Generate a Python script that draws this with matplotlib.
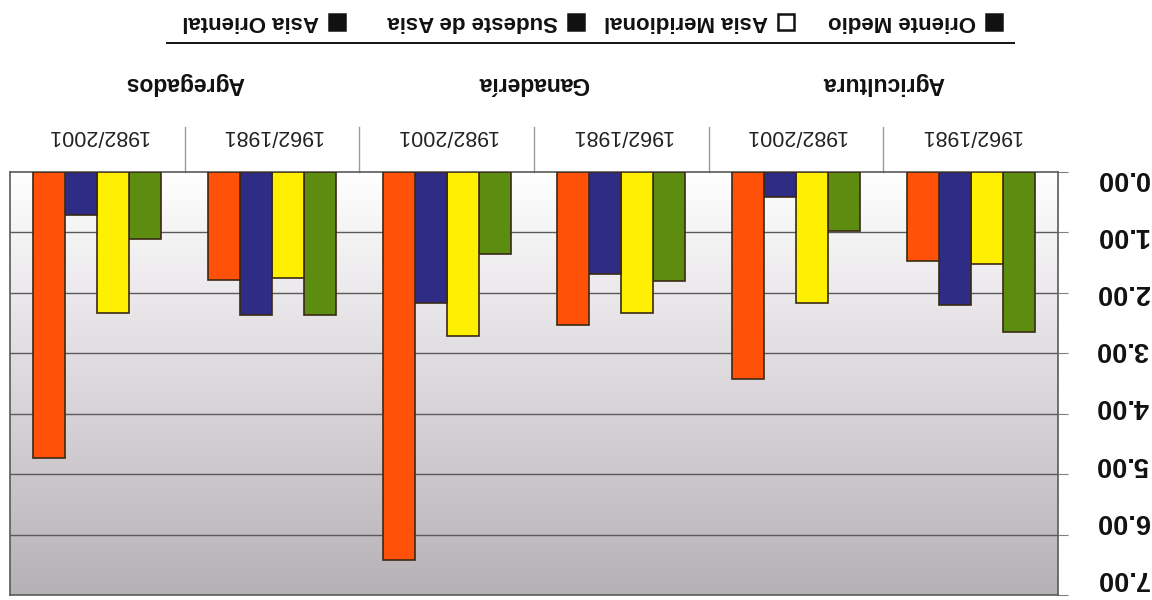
import numpy as np
import matplotlib
matplotlib.use("Agg")
import matplotlib.pyplot as plt
from matplotlib.colors import LinearSegmentedColormap
from matplotlib.transforms import blended_transform_factory
from matplotlib.patches import Rectangle

# ---- data (original chart order; the reference image is rotated 180 degrees) ----
groups = ["Agricultura", "Ganadería", "Agregados"]
periods = ["1962/1981", "1982/2001"]
series = ["Oriente Medio", "Asia Meridional", "Sudeste de Asia", "Asia Oriental"]
colors = ["#5c8c10", "#ffef00", "#2e2c85", "#ff5208"]

oriente_medio   = [2.64, 0.98, 1.81, 1.36, 2.36, 1.11]
asia_meridional = [1.53, 2.17, 2.34, 2.72, 1.76, 2.33]
sudeste_asia    = [2.20, 0.41, 1.69, 2.17, 2.36, 0.71]
asia_oriental   = [1.47, 3.42, 2.54, 6.42, 1.79, 4.73]
values = [oriente_medio, asia_meridional, sudeste_asia, asia_oriental]

yticks = [0, 1, 2, 3, 4, 5, 6, 7]
ytick_labels = ["0.00", "1.00", "2.00", "3.00", "4.00", "5.00", "6.00", "7.00"]

W, H = 1152, 600
fig = plt.figure(figsize=(W / 100, H / 100), dpi=100)
fig.patch.set_facecolor("white")

left_px, right_px, top_px, bot_px = 10, 1058, 172, 595
ax_w = right_px - left_px
ax_h = bot_px - top_px
ax = fig.add_axes([left_px / W, 1 - bot_px / H, ax_w / W, ax_h / H])

n_slots = len(groups) * len(periods)
x = np.arange(n_slots)
bw = 0.183

# gradient background (white near 0, gray near 7)
cmap = LinearSegmentedColormap.from_list("bg", ["#ffffff", "#dcd8dc", "#b6b1b6"])
grad = np.linspace(0, 1, 256).reshape(-1, 1)
ax.imshow(grad, extent=[-0.5, n_slots - 0.5, 7, 0], aspect="auto", cmap=cmap,
          origin="upper", zorder=0)

for yv in yticks[1:-1]:
    ax.axhline(yv, color="#5a5a5a", lw=1.0, zorder=1)

for i, vals in enumerate(values):
    ax.bar(x + (i - 1.5) * bw, vals, width=bw, color=colors[i],
           edgecolor="#3a2a14", linewidth=1.2, zorder=3)

ax.set_xlim(n_slots - 0.5, -0.5)   # inverted (image rotated 180)
ax.set_ylim(7, 0)
ax.set_xticks([])
ax.yaxis.tick_right()
ax.set_yticks(yticks)
ax.set_yticklabels([])
ax.tick_params(axis="y", direction="out", length=7, color="#808080")
for sp in ax.spines.values():
    sp.set_color("#5a5a5a")
    sp.set_linewidth(1.2)

# y tick labels (rotated 180) on the right; the scanned reference spaces them
# slightly tighter than the gridlines, so keep them inside the figure
ytrans = blended_transform_factory(ax.transAxes, ax.transData)
for yv, lab in zip(yticks, ytick_labels):
    ax.text((1122 - left_px) / ax_w, 0.1 + yv * 0.945, lab, transform=ytrans,
            rotation=180, ha="center", va="center", fontsize=19.5,
            fontweight="bold", family="Liberation Sans", color="#111111",
            clip_on=False)

# category labels (rotated 180) above the axes
trans = blended_transform_factory(ax.transData, ax.transAxes)
for k in range(n_slots):
    ax.text(x[k], 1 + 37 / ax_h, periods[k % 2], transform=trans, rotation=180,
            ha="center", va="center", fontsize=15.5, family="Liberation Sans",
            color="#222222", clip_on=False)
for g, name in enumerate(groups):
    ax.text(2 * g + 0.5, 1 + 89 / ax_h, name, transform=trans, rotation=180,
            ha="center", va="center", fontsize=16.5, fontweight="bold",
            family="Liberation Sans", color="#111111", clip_on=False)
for k in range(n_slots - 1):
    ax.plot([k + 0.5, k + 0.5], [1, 1 + 45 / ax_h], transform=trans,
            color="#9a9a9a", lw=1.0, clip_on=False)

# legend (rotated 180), drawn in figure pixel coordinates
marker_x = [994, 786, 576, 337]
legend_y = 22
sq = 16
for i, name in enumerate(series):
    face = "white" if i == 1 else "#111111"
    fig.add_artist(Rectangle(((marker_x[i] - sq / 2) / W, 1 - (legend_y + sq / 2) / H),
                             sq / W, sq / H, transform=fig.transFigure,
                             facecolor=face, edgecolor="#111111", lw=1.8))
    fig.text((marker_x[i] - sq / 2 - 10) / W, 1 - legend_y / H, name, rotation=180,
             ha="right", va="center", fontsize=16, fontweight="bold",
             family="Liberation Sans", color="#111111")
fig.add_artist(plt.Line2D([167 / W, 1014 / W], [1 - 43 / H, 1 - 43 / H],
                          transform=fig.transFigure, color="#111111", lw=1.4))

fig.savefig("out.png", dpi=100)
